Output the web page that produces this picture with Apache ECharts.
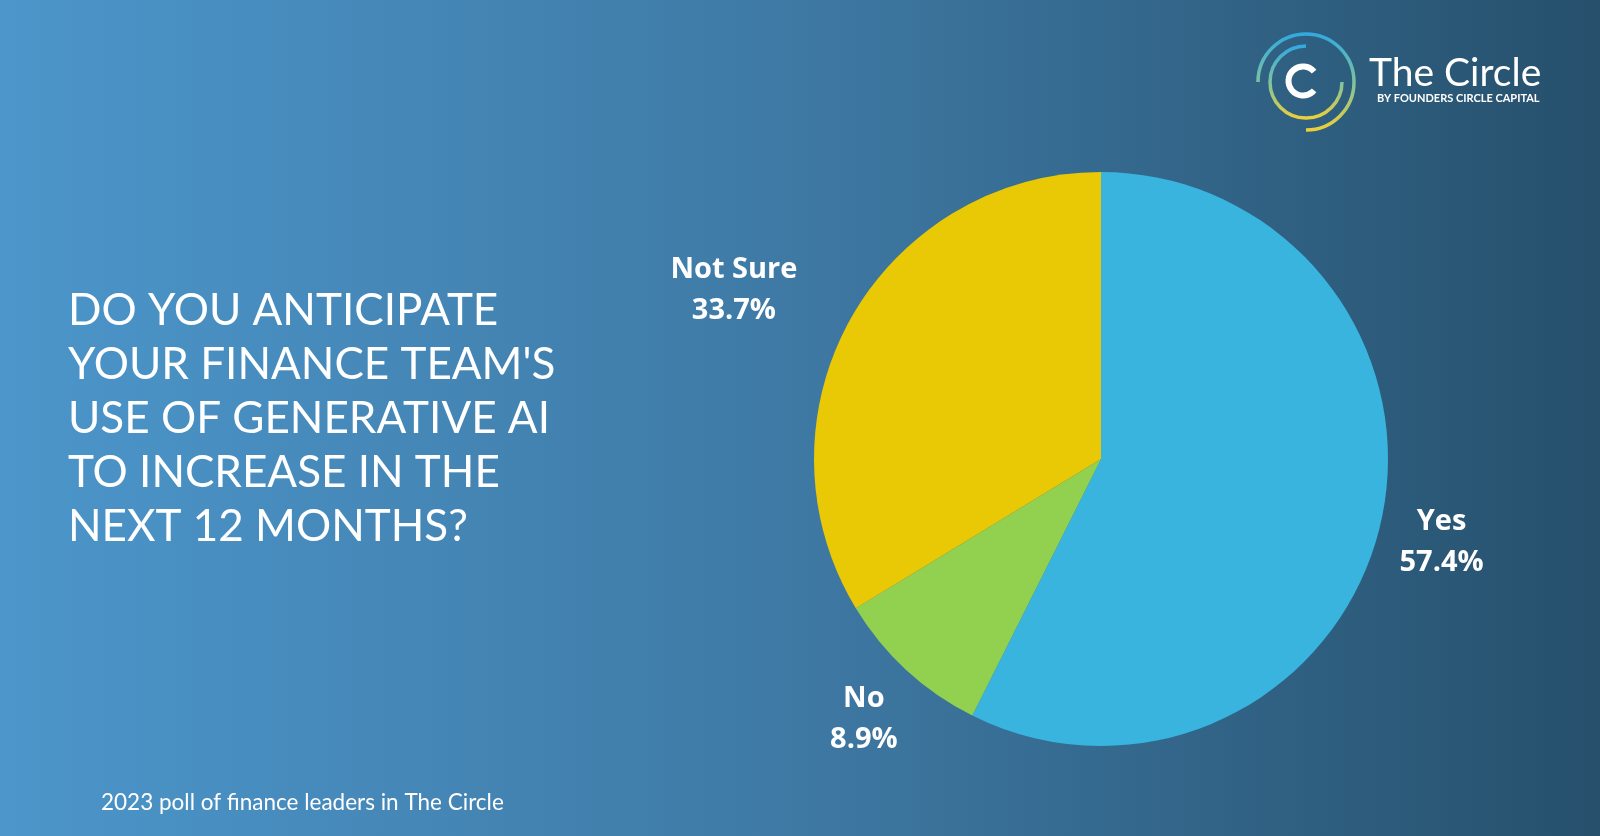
<!DOCTYPE html>
<html>
<head>
<meta charset="utf-8">
<script src="https://cdn.jsdelivr.net/npm/echarts@6/dist/echarts.min.js"></script>
<style>
html,body{margin:0;padding:0;background:#3E79A4;}
#chart{width:1600px;height:836px;}
</style>
</head>
<body>
<div id="chart"></div>
<script>
// ---- data ----
const categories = ['Yes', 'No', 'Not Sure'];
const values = [57.4, 8.9, 33.7];
const titleLines = [
  'DO YOU ANTICIPATE',
  "YOUR FINANCE TEAM'S",
  'USE OF GENERATIVE AI',
  'TO INCREASE IN THE',
  'NEXT 12 MONTHS?'
];
const footnote = '2023 poll of finance leaders in The Circle';
const brandName = 'The Circle';
const brandSub = 'BY FOUNDERS CIRCLE CAPITAL';

// ---- layout / style ----
const colors = ['#38B4DE', '#92D14F', '#E9C805'];
const PIE_CX = 1101, PIE_CY = 459, PIE_R = 287;
const LABEL_R = 350;
const labelNudgeX = [0, 0, -62];
const LABEL_DY = 3;

const chart = echarts.init(document.getElementById('chart'), null, {renderer: 'canvas'});

const total = values.reduce((a, b) => a + b, 0);
function midAngle(i) {
  let cum = 0;
  for (let k = 0; k < i; k++) cum += values[k];
  return ((cum + values[i] / 2) / total) * Math.PI * 2; // clockwise from top
}

const arcGrad = {
  type: 'linear', x: 0, y: 0, x2: 0, y2: 1,
  colorStops: [
    {offset: 0, color: '#2FA8E2'},
    {offset: 0.5, color: '#7CC3A0'},
    {offset: 1, color: '#F3CF34'}
  ]
};

const LX = 1306, LY = 82;

const option = {
  animation: false,
  graphic: [
    {
      type: 'rect', z: -10, silent: true,
      shape: {x: 0, y: 0, width: 1600, height: 836},
      style: {
        fill: {
          type: 'linear', x: 0, y: 0, x2: 1, y2: 0,
          colorStops: [
            {offset: 0, color: '#4C96CB'},
            {offset: 0.5, color: '#3E79A4'},
            {offset: 1, color: '#26506C'}
          ]
        }
      }
    },
    {
      type: 'text', left: 68, top: 284, z: 10,
      style: {
        text: titleLines.join('\n'),
        font: '400 44px Lato',
        fill: '#ffffff',
        lineHeight: 54
      }
    },
    {
      type: 'text', left: 101, top: 791, z: 10,
      style: {
        text: footnote,
        font: '400 22.5px Lato',
        fill: '#ffffff'
      }
    },
    // logo arcs
    {
      type: 'arc', z: 10,
      shape: {cx: LX, cy: LY, r: 48, startAngle: Math.PI, endAngle: Math.PI * 2.5, clockwise: true},
      style: {stroke: arcGrad, lineWidth: 3.5, fill: null}
    },
    {
      type: 'arc', z: 10,
      shape: {cx: LX, cy: LY, r: 36, startAngle: Math.PI * 1.5, endAngle: 0, clockwise: false},
      style: {stroke: arcGrad, lineWidth: 3.5, fill: null}
    },
    {
      type: 'arc', z: 10,
      shape: {cx: LX - 3, cy: LY - 1, r: 14.5, startAngle: -0.7, endAngle: 0.7, clockwise: false},
      style: {stroke: '#ffffff', lineWidth: 6, fill: null}
    },
    {
      type: 'text', left: 1369, top: 54, z: 10,
      style: {text: brandName, font: '400 39px Lato', fill: '#ffffff'}
    },
    {
      type: 'text', left: 1377, top: 93, z: 10,
      style: {text: brandSub, font: '700 11px Lato', fill: '#ffffff'}
    }
  ],
  series: [{
    type: 'pie',
    center: [PIE_CX, PIE_CY],
    radius: [0, PIE_R],
    startAngle: 90,
    clockwise: true,
    avoidLabelOverlap: false,
    silent: true,
    data: categories.map((c, i) => ({name: c, value: values[i], itemStyle: {color: colors[i]}})),
    label: {
      show: true,
      position: 'outside',
      formatter: '{b}\n{c}%',
      color: '#ffffff',
      fontFamily: 'Open Sans',
      fontWeight: 'bold',
      fontSize: 29,
      lineHeight: 41
    },
    labelLine: {show: false},
    labelLayout: function (p) {
      const a = midAngle(p.dataIndex);
      return {
        x: PIE_CX + LABEL_R * Math.sin(a) + labelNudgeX[p.dataIndex],
        y: PIE_CY - LABEL_R * Math.cos(a) + LABEL_DY,
        align: 'center',
        verticalAlign: 'middle'
      };
    }
  }]
};
chart.setOption(option);
</script>
</body>
</html>
